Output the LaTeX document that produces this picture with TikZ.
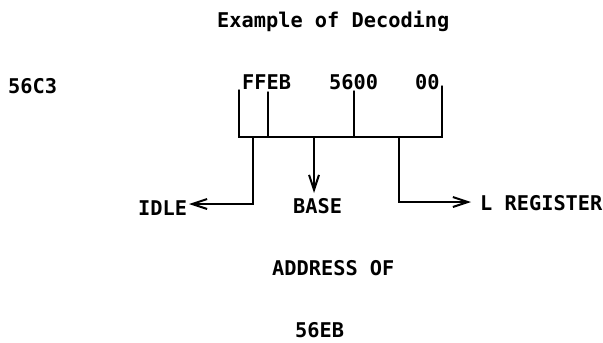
\documentclass[tikz,border=0pt]{standalone}
\usepackage{fontspec}
\setmainfont{DejaVu Sans Mono}
\usetikzlibrary{arrows.meta}
\tikzset{
  lbl/.style={inner sep=0pt, anchor=base west, font=\fontsize{20.3}{24}\selectfont\bfseries},
  wire/.style={line width=1.4pt, line cap=round, line join=miter},
  arr/.style={wire, -{Straight Barb[length=15pt,width=10pt,line width=2pt]}}
}
\begin{document}
\begin{tikzpicture}[x=1pt,y=-1pt]
\useasboundingbox (0,0) rectangle (603,343);
% texts
\node[lbl] (title) at (217,27) {Example of Decoding};
\node[lbl] (addr)  at (8,93) {56C3};
\node[lbl] (ffeb)  at (242,89) {FFEB};
\node[lbl] (f5600) at (329,89) {5600};
\node[lbl] (f00)   at (415,89) {00};
\node[lbl] (idle)  at (138,215) {IDLE};
\node[lbl] (base)  at (293,213) {BASE};
\node[lbl] (lreg)  at (480,210) {L REGISTER};
\node[lbl] (addrof) at (272,275) {ADDRESS OF};
\node[lbl] (res)   at (295,337) {56EB};
% bracket
\coordinate (t1) at (239,90);
\coordinate (t2) at (268,92);
\coordinate (t3) at (354,91);
\coordinate (t4) at (442,86);
\coordinate (b1) at (239,137);
\coordinate (b2) at (268,137);
\coordinate (b3) at (354,137);
\coordinate (b4) at (442,137);
\draw[wire] (t1) -- (b1) -- (b4) -- (t4);
\draw[wire] (t2) -- (b2);
\draw[wire] (t3) -- (b3);
% outputs
\coordinate (d1) at (253,137);
\coordinate (d2) at (314,137);
\coordinate (d3) at (399,137);
\coordinate (idletip) at (189,204);
\coordinate (basetip) at (314,193);
\coordinate (lregtip) at (471,202);
\draw[arr] (d1) |- (idletip);
\draw[arr] (d2) -- (basetip);
\draw[arr] (d3) |- (lregtip);
\end{tikzpicture}
\end{document}
